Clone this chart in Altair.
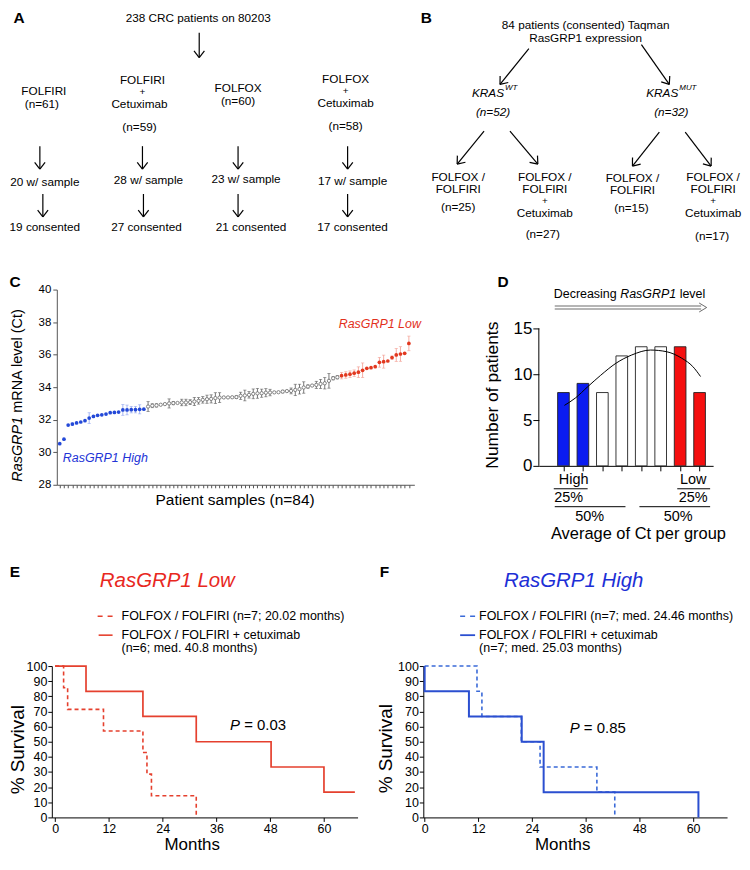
import altair as alt
import pandas as pd
import numpy as np

FONT = "Liberation Sans"

# ---------------- DATA ----------------
# Panel C: RasGRP1 Ct per patient (sorted), mean and SEM
ct_high = [30.53, 30.80, 31.67, 31.73, 31.80, 31.86, 31.94, 32.10, 32.20, 32.27, 32.30,
           32.35, 32.43, 32.45, 32.47, 32.60, 32.60, 32.62, 32.62, 32.64, 32.65]
sem_high = [0, 0, 0, 0.08, 0, 0, 0, 0.33, 0, 0, 0, 0, 0, 0, 0, 0.33, 0.30, 0.20, 0.20, 0.28, 0]
ct_mid = [32.81, 32.86, 32.88, 32.92, 32.96, 33.00, 33.02, 33.03, 33.06, 33.06,
          33.08, 33.12, 33.16, 33.22, 33.26, 33.28, 33.33, 33.36, 33.37, 33.37,
          33.38, 33.39, 33.47, 33.49, 33.53, 33.59, 33.62, 33.63, 33.66, 33.67,
          33.68, 33.69, 33.73, 33.76, 33.77, 33.83, 33.88, 33.98, 34.04, 34.10,
          34.14, 34.20, 34.24, 34.39, 34.55, 34.61]
sem_mid = [0.30, 0.12, 0.10, 0, 0, 0.28, 0.10, 0, 0.20, 0.20,
           0.15, 0.25, 0.20, 0.20, 0.25, 0.25, 0.33, 0.30, 0, 0,
           0, 0.08, 0.22, 0.33, 0.20, 0.30, 0.30, 0.25, 0.25, 0.20,
           0, 0, 0.08, 0, 0.18, 0.35, 0.30, 0.35, 0.10, 0,
           0.22, 0.28, 0.35, 0.45, 0.10, 0.10]
ct_low = [34.71, 34.75, 34.80, 34.86, 34.92, 35.04, 35.16, 35.20, 35.26, 35.53,
          35.57, 35.61, 35.82, 35.98, 36.04, 36.08, 36.69]
sem_low = [0.2, 0.2, 0.2, 0.2, 0.33, 0.45, 0, 0, 0, 0.3, 0.4, 0, 0.1, 0.4, 0.45, 0, 0.45]

# Panel D: histogram of average Ct per group, with fitted curve
bin_counts = [8, 9, 8, 12, 13, 13, 13, 8]
bin_group = ["High", "High", "Mid", "Mid", "Mid", "Mid", "Low", "Low"]
fit_x = [0.05, 0.61, 1.26, 1.90, 2.70, 3.51, 4.48, 5.28, 6.09, 6.65, 7.05]
fit_y = [6.6, 7.4, 8.66, 9.86, 11.2, 12.1, 12.64, 12.47, 11.74, 10.84, 9.75]

# Panel E: RasGRP1 Low Kaplan-Meier
e_chemo_t = [0, 1.9, 2.8, 10.8, 19.6, 20.5, 21.5, 31.5]
e_chemo_s = [100, 85.7, 71.4, 57.1, 42.9, 28.6, 14.3, 0]
e_cet_t = [0, 6.9, 19.6, 31.5, 48.2, 60.0, 66.9]
e_cet_s = [100, 83.3, 66.7, 50.0, 33.3, 16.7, 16.7]
# Panel F: RasGRP1 High Kaplan-Meier
f_chemo_t = [0, 11.7, 12.8, 21.6, 25.8, 38.5, 42.5]
f_chemo_s = [100, 83.3, 66.7, 50.0, 33.3, 16.7, 0]
f_cet_t = [0, 0, 9.9, 21.7, 26.6, 61.2]
f_cet_s = [100, 83.3, 66.7, 50.0, 16.7, 0]

# Flowchart A
a_labels = ["238 CRC patients on 80203",
            "FOLFIRI", "(n=61)",
            "FOLFIRI", "+", "Cetuximab", "(n=59)",
            "FOLFOX", "(n=60)",
            "FOLFOX", "+", "Cetuximab", "(n=58)",
            "20 w/ sample", "28 w/ sample", "23 w/ sample", "17 w/ sample",
            "19 consented", "27 consented", "21 consented", "17 consented"]
a_layout = [(197, 13),
            (42, 87), (40, 100),
            (141, 76), (141, 88), (138, 100), (138, 123),
            (237, 84), (237, 97),
            (345, 75), (345, 87), (345, 99), (345, 122),
            (43, 178), (147, 176), (245, 175), (352, 177),
            (43, 223), (145, 223), (250, 223), (352, 223)]
a_arrows = [(198, 28, 198, 53),
            (38, 142, 38, 165), (141, 142, 141, 165), (237, 142, 237, 165), (347, 142, 347, 165),
            (41, 190, 41, 213), (142, 190, 142, 213), (237, 190, 237, 213), (347, 190, 347, 213)]

# Flowchart B
b_labels = ["84 patients (consented) Taqman", "RasGRP1 expression",
            "FOLFOX /", "FOLFIRI", "(n=25)",
            "FOLFOX /", "FOLFIRI", "+", "Cetuximab", "(n=27)",
            "FOLFOX /", "FOLFIRI", "(n=15)",
            "FOLFOX /", "FOLFIRI", "+", "Cetuximab", "(n=17)"]
b_layout = [(586, 20), (586, 33),
            (458, 173), (458, 185), (458, 203),
            (545, 173), (545, 185), (545, 197), (545, 209), (543, 230),
            (633, 174), (633, 186), (632, 204),
            (714, 173), (714, 185), (714, 197), (714, 209), (713, 232)]
b_italic = ["(n=52)", "(n=32)"]
b_italic_layout = [(493, 108), (672, 108)]
b_arrows = [(529, 44, 500, 80), (642, 40, 670, 80),
            (484, 127, 457, 160), (510, 127, 538, 160),
            (660, 128, 633, 162), (686, 128, 712, 162)]

# ---------------- HELPERS ----------------
WID = {' ': 278, '!': 278, '(': 333, ')': 333, '+': 584, ',': 278, '-': 333, '.': 278, '/': 278,
       ':': 278, ';': 278, '=': 584, '%': 889,
       'A': 667, 'B': 667, 'C': 722, 'D': 722, 'E': 667, 'F': 611, 'G': 778, 'H': 722, 'I': 278,
       'J': 500, 'K': 667, 'L': 556, 'M': 833, 'N': 722, 'O': 778, 'P': 667, 'Q': 778, 'R': 722,
       'S': 667, 'T': 611, 'U': 722, 'V': 667, 'W': 944, 'X': 667, 'Y': 667, 'Z': 611,
       'a': 556, 'b': 556, 'c': 500, 'd': 556, 'e': 556, 'f': 278, 'g': 556, 'h': 556, 'i': 222,
       'j': 222, 'k': 500, 'l': 222, 'm': 833, 'n': 556, 'o': 556, 'p': 556, 'q': 556, 'r': 333,
       's': 500, 't': 278, 'u': 556, 'v': 500, 'w': 722, 'x': 500, 'y': 500, 'z': 500}


def text_width(s, size):
    return sum(WID.get(c, 556) for c in s) / 1000.0 * size


ONE = pd.DataFrame({"_": [0]})


def label(text, px, py, origin, size=12.0, color="black", style="normal", weight="normal",
          align="center", angle=None):
    kw = dict(text=text, font=FONT, fontSize=size, color=color, fontStyle=style,
              fontWeight=weight, align=align, baseline="middle")
    if angle is not None:
        kw["angle"] = angle
    return alt.Chart(ONE).mark_text(**kw).encode(
        x=alt.value(px - origin[0]), y=alt.value(py - origin[1]))


def rich(parts, px, py, origin, size, color="black", vertical=False):
    layers = []
    off = 0.0
    for txt, style in parts:
        lead = len(txt) - len(txt.lstrip())
        off_here = off + text_width(txt[:lead], size)
        shown = txt.strip()
        if vertical:
            layers.append(label(shown, px, py - off_here, origin, size, color, style,
                                align="left", angle=270))
        else:
            layers.append(label(shown, px + off_here, py, origin, size, color, style, align="left"))
        off += text_width(txt, size)
    return layers


def seg(px1, py1, px2, py2, origin, color="black", width=1.0, dash=None):
    kw = dict(color=color, strokeWidth=width)
    if dash:
        kw["strokeDash"] = dash
    return alt.Chart(ONE).mark_rule(**kw).encode(
        x=alt.value(px1 - origin[0]), y=alt.value(py1 - origin[1]),
        x2=alt.value(px2 - origin[0]), y2=alt.value(py2 - origin[1]))


def frame(L, T, R, B, origin):
    # invisible extent marker: fixes each panel's layout bounds
    return alt.Chart(ONE).mark_rule(opacity=0, strokeWidth=0.1).encode(
        x=alt.value(L - origin[0]), y=alt.value(T - origin[1]),
        x2=alt.value(R - origin[0]), y2=alt.value(B - origin[1]))


def spacer(w, h):
    return alt.Chart(ONE).mark_rule(opacity=0, strokeWidth=0.1).encode(
        x=alt.value(0), y=alt.value(0), x2=alt.value(w), y2=alt.value(h)).properties(width=w, height=h)


def arrow_segments(arrows, head=8.5, spread=np.radians(38)):
    out = []
    for x1, y1, x2, y2 in arrows:
        dx, dy = x2 - x1, y2 - y1
        L = np.hypot(dx, dy)
        ux, uy = dx / L, dy / L
        out.append((x1, y1, x2, y2))
        for s in (1, -1):
            c, sn = np.cos(s * spread), np.sin(s * spread)
            rx, ry = ux * c - uy * sn, ux * sn + uy * c
            out.append((x2, y2, x2 - head * rx, y2 - head * ry))
    return out


def flow_panel(texts, segs, xdom, ydom, extra):
    xs = alt.Scale(domain=xdom, nice=False, zero=False)
    ys = alt.Scale(domain=ydom, nice=False, zero=False, reverse=True)
    sdf = pd.DataFrame(segs, columns=["x", "y", "x2", "y2"])
    layers = [alt.Chart(sdf).mark_rule(color="black", strokeWidth=1.2).encode(
        x=alt.X("x:Q", scale=xs, axis=None), y=alt.Y("y:Q", scale=ys, axis=None),
        x2="x2:Q", y2="y2:Q")]
    tdf = pd.DataFrame(texts, columns=["label", "x", "y", "size", "style", "weight", "align"])
    for (style, weight, align), g in tdf.groupby(["style", "weight", "align"]):
        layers.append(alt.Chart(g).mark_text(font=FONT, fontStyle=style, fontWeight=weight,
                                             align=align, baseline="middle", color="black").encode(
            x=alt.X("x:Q", scale=xs, axis=None), y=alt.Y("y:Q", scale=ys, axis=None),
            text="label:N", size=alt.Size("size:Q", scale=None)))
    layers += extra
    return alt.layer(*layers).properties(width=xdom[1] - xdom[0], height=ydom[1] - ydom[0])


FS = 11.8
XL = 11     # left edge of the first panel in every row
XR = 740    # right edge of the last panel in every row
# ---------------- PANEL A ----------------
A_O = (XL, 6)
a_texts = [(t, x, y, 10 if t == "+" else FS, "normal", "normal", "center")
           for t, (x, y) in zip(a_labels, a_layout)]
a_texts += [("A", 17, 13, 15.5, "normal", "bold", "center")]
panelA = flow_panel(a_texts, arrow_segments(a_arrows), [XL, 400], [6, 250],
                    [frame(XL, 6, 400, 250, A_O)])

# ---------------- PANEL B ----------------
B_O = (400, 6)
b_texts = [(t, x, y, 10 if t == "+" else FS, "normal", "normal", "center")
           for t, (x, y) in zip(b_labels, b_layout)]
b_texts += [(t, x, y, FS, "italic", "normal", "center") for t, (x, y) in zip(b_italic, b_italic_layout)]
b_texts += [("KRAS", 504, 89, FS, "italic", "normal", "right"),
            ("WT", 505, 84, 8, "italic", "normal", "left"),
            ("KRAS", 679, 89, FS, "italic", "normal", "right"),
            ("MUT", 680, 84, 8, "italic", "normal", "left"),
            ("B", 426, 13, 15.5, "normal", "bold", "center")]
panelB = flow_panel(b_texts, arrow_segments(b_arrows), [400, XR], [6, 250],
                    [frame(400, 6, XR, 250, B_O)])

# ---------------- PANEL C ----------------
C_O = (59, 291)
c_df = pd.DataFrame({"idx": list(range(84)), "ct": ct_high + ct_mid + ct_low,
                     "sem": sem_high + sem_mid + sem_low,
                     "grp": ["High"] * len(ct_high) + ["Mid"] * len(ct_mid) + ["Low"] * len(ct_low)})
c_df["lo"] = c_df["ct"] - c_df["sem"]
c_df["hi"] = c_df["ct"] + c_df["sem"]
cx = alt.Scale(domain=[-0.7, 84.3], nice=False, zero=False)
cy = alt.Scale(domain=[28, 40], nice=False, zero=False)
cx_axis = alt.Axis(values=list(range(84)), labels=False, ticks=True, tickSize=3, tickColor="#555",
                   domainColor="#555", title=None, grid=False)
cy_axis = alt.Axis(values=list(range(28, 41, 2)), tickSize=4, tickColor="#555", domainColor="#555",
                   labelFontSize=11.5, labelColor="black", labelFont=FONT, labelPadding=2,
                   title=None, grid=False)
CX = alt.X("idx:Q", scale=cx, axis=cx_axis)
c_layers = [frame(XL, 255, 470, 560, C_O)]
c_styles = {"High": ("#2449d8", "#8ea3ef"), "Mid": ("#666666", "#555555"), "Low": ("#e2381f", "#f29a8e")}
for g, (pc, ec) in c_styles.items():
    d = c_df[c_df["grp"] == g]
    e = d[d["sem"] > 0]
    c_layers.append(alt.Chart(e).mark_rule(color=ec, strokeWidth=0.8).encode(
        x=CX, y=alt.Y("lo:Q", scale=cy, axis=cy_axis), y2="hi:Q"))
    for col in ("lo", "hi"):
        c_layers.append(alt.Chart(e).mark_tick(color=ec, orient="horizontal", size=3.2, thickness=0.8).encode(
            x=CX, y=alt.Y(f"{col}:Q", scale=cy, axis=cy_axis)))
    if g == "Mid":
        c_layers.append(alt.Chart(d).mark_point(shape="circle", size=11, filled=True, fill="white",
                                                stroke=pc, strokeWidth=0.8, opacity=1).encode(
            x=CX, y=alt.Y("ct:Q", scale=cy, axis=cy_axis)))
    else:
        c_layers.append(alt.Chart(d).mark_circle(size=14, color=pc, opacity=1).encode(
            x=CX, y=alt.Y("ct:Q", scale=cy, axis=cy_axis)))
c_layers += [label("C", 17, 283, C_O, 15.5, weight="bold"),
             label("RasGRP1 High", 65, 460, C_O, 12.5, "#2233d6", "italic", align="left"),
             label("RasGRP1 Low", 342, 326, C_O, 12.5, "#e2301c", "italic", align="left"),
             label("Patient samples (n=84)", 238, 502, C_O, 15.5)]
c_layers += rich([("RasGRP1", "italic"), (" mRNA level (Ct)", "normal")], 20, 484, C_O, 14.5, vertical=True)
panelC = alt.layer(*c_layers).properties(width=359, height=196)

# ---------------- PANEL D ----------------
D_O = (543, 291)
dx = alt.Scale(domain=[-1.01, 7.44], nice=False, zero=False)
dy = alt.Scale(domain=[0, 19.24], nice=False, zero=False)
dx_axis = alt.Axis(values=list(range(8)), labels=False, tickSize=5, tickColor="black",
                   domainColor="black", title=None, grid=False)
dy_axis = alt.Axis(values=[0, 5, 10, 15], domain=False, tickSize=6, tickColor="black",
                   labelFontSize=17, labelColor="black", labelFont=FONT, labelPadding=1,
                   title=None, grid=False)
d_df = pd.DataFrame({"idx": list(range(len(bin_counts))), "n": bin_counts, "grp": bin_group})
d_layers = [
    frame(470, 255, XR, 560, D_O),
    alt.Chart(d_df).mark_bar(size=11.7, stroke="#222", strokeWidth=0.9).encode(
        x=alt.X("idx:Q", scale=dx, axis=dx_axis), y=alt.Y("n:Q", scale=dy, axis=dy_axis),
        color=alt.Color("grp:N", scale=alt.Scale(domain=["High", "Mid", "Low"],
                                                 range=["#0b1cf0", "#ffffff", "#f50f0f"]), legend=None)),
    alt.Chart(pd.DataFrame({"fx": fit_x, "fy": fit_y})).mark_line(
        color="black", strokeWidth=1, interpolate="monotone").encode(
        x=alt.X("fx:Q", scale=dx, axis=dx_axis), y=alt.Y("fy:Q", scale=dy, axis=dy_axis)),
    alt.Chart(ONE).mark_rule(color="black", strokeWidth=1).encode(
        x=alt.value(0), y=alt.YDatum(0, scale=dy, axis=dy_axis), y2=alt.Y2Datum(15)),
]
d_layers += rich([("Decreasing ", "normal"), ("RasGRP1", "italic"), (" level", "normal")],
                 558, 295, D_O, 12.5)
d_layers += [label("D", 507, 283, D_O, 15.5, weight="bold"),
             seg(559, 307.5, 706, 307.5, D_O, "#444", 0.8),
             seg(559, 310.5, 706, 310.5, D_O, "#444", 0.8),
             seg(704, 304.5, 711.5, 309, D_O, "#444", 0.8),
             seg(704, 313.5, 711.5, 309, D_O, "#444", 0.8),
             label("Number of patients", 497, 397, D_O, 17.5, angle=270),
             label("High", 578, 482, D_O, 14.5),
             seg(558, 491, 592, 491, D_O, "black", 1),
             label("25%", 573, 500, D_O, 14.5),
             seg(559, 509, 630, 509, D_O, "black", 1),
             label("50%", 594, 519, D_O, 14.5),
             label("Low", 698, 482, D_O, 14.5),
             seg(682, 491, 715, 491, D_O, "black", 1),
             label("25%", 698, 500, D_O, 14.5),
             seg(644, 509, 715, 509, D_O, "black", 1),
             label("50%", 683, 519, D_O, 14.5),
             label("Average of Ct per group", 643, 536, D_O, 16.5)]
panelD = alt.layer(*d_layers).properties(width=175, height=177)

# ---------------- PANELS E / F ----------------
sy = alt.Scale(domain=[0, 100], nice=False, zero=False)
km_xaxis = alt.Axis(values=[0, 12, 24, 36, 48, 60], tickSize=4, tickColor="black", domainColor="black",
                    labelFontSize=12.5, labelColor="black", labelFont=FONT, labelPadding=1,
                    title=None, grid=False)
km_yaxis = alt.Axis(values=list(range(0, 101, 10)), tickSize=4, tickColor="black", domainColor="black",
                    labelFontSize=12.5, labelColor="black", labelFont=FONT, labelPadding=1,
                    title=None, grid=False)


def km_line(t, s, xs, color, width, dash=None):
    df = pd.DataFrame({"t": t, "s": s, "i": list(range(len(t)))})
    kw = dict(color=color, strokeWidth=width, interpolate="step-after")
    if dash:
        kw["strokeDash"] = dash
    return alt.Chart(df).mark_line(**kw).encode(
        x=alt.X("t:Q", scale=xs, axis=km_xaxis), y=alt.Y("s:Q", scale=sy, axis=km_yaxis),
        order="i:Q")


E_O = (54, 673)
RED = "#e5402e"
ex = alt.Scale(domain=[-0.73, 67.5], nice=False, zero=False)
e_layers = [frame(XL, 564, 378, 850, E_O),
            km_line(e_chemo_t, e_chemo_s, ex, RED, 1.6, [4, 3]),
            km_line(e_cet_t, e_cet_s, ex, RED, 1.7),
            label("E", 17, 579, E_O, 15.5, weight="bold"),
            label("RasGRP1 Low", 170, 588, E_O, 20.5, "#e8281e", "italic"),
            seg(100, 623, 115, 623, E_O, RED, 1.5, [5, 5]),
            label("FOLFOX / FOLFIRI (n=7; 20.02 months)", 124, 623, E_O, 12.5, align="left"),
            seg(101, 642, 115, 642, E_O, RED, 1.6),
            label("FOLFOX / FOLFIRI + cetuximab", 124, 642, E_O, 12.5, align="left"),
            label("(n=6; med. 40.8 months)", 124, 655, E_O, 12.5, align="left"),
            label("% Survival", 20, 757, E_O, 19, angle=270),
            label("Months", 195, 853, E_O, 17)]
e_layers += rich([("P", "italic"), (" = 0.03", "normal")], 233, 732, E_O, 15)
panelE = alt.layer(*e_layers).properties(width=307, height=152)

F_O = (427, 673)
BLUE_S = "#2b4fd0"
BLUE_D = "#3a6ad8"
fx = alt.Scale(domain=[-0.3, 67.6], nice=False, zero=False)
f_layers = [frame(378, 564, XR, 850, F_O),
            km_line(f_chemo_t, f_chemo_s, fx, BLUE_D, 1.6, [4, 3]),
            km_line(f_cet_t, f_cet_s, fx, BLUE_S, 2.0),
            label("F", 388, 579, F_O, 15.5, weight="bold"),
            label("RasGRP1 High", 578, 588, F_O, 20.5, "#1d2fd6", "italic"),
            seg(464, 623, 479, 623, F_O, BLUE_D, 1.5, [5, 5]),
            label("FOLFOX / FOLFIRI (n=7; med. 24.46 months)", 483, 623, F_O, 12.5, align="left"),
            seg(464, 642, 479, 642, F_O, BLUE_S, 1.8),
            label("FOLFOX / FOLFIRI + cetuximab", 483, 642, F_O, 12.5, align="left"),
            label("(n=7; med. 25.03 months)", 483, 655, F_O, 12.5, align="left"),
            label("% Survival", 390, 756, F_O, 19, angle=270),
            label("Months", 567, 853, F_O, 17)]
f_layers += rich([("P", "italic"), (" = 0.85", "normal")], 574, 735, F_O, 15)
panelF = alt.layer(*f_layers).properties(width=305, height=152)

# ---------------- LAYOUT ----------------
# leading 1-px spacers make every panel a bounds-placed cell (no origin alignment)
row1 = alt.hconcat(spacer(1, 1), panelA, panelB, spacing=0)
row2 = alt.hconcat(spacer(1, 1), panelC, panelD, spacing=0)
row3 = alt.hconcat(spacer(1, 1), panelE, panelF, spacing=0)
chart = alt.vconcat(spacer(1, 1), row1, row2, row3, spacing=0).properties(
    padding={"left": 0, "top": 0, "right": 0, "bottom": 0}
).configure(font=FONT, view=alt.ViewConfig(strokeWidth=0))

chart.save("out.html", embed_options={"renderer": "svg", "actions": False})
